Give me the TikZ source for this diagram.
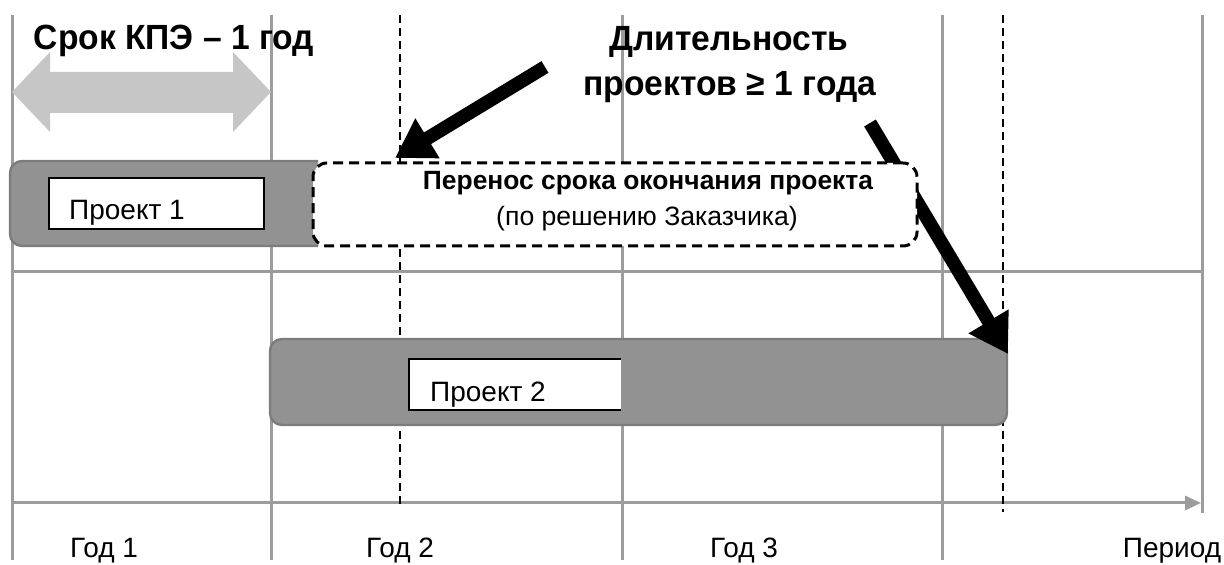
\documentclass[tikz,border=0pt]{standalone}
\usepackage{fontspec}
\setmainfont{Liberation Sans}
\newfontfamily\narrowtitle{Liberation Sans}[FakeStretch=0.96]
\usetikzlibrary{arrows.meta}
\definecolor{gridgray}{HTML}{9C9C9C}
\definecolor{barfill}{HTML}{929292}
\definecolor{baredge}{HTML}{7C7C7C}
\definecolor{lightarrow}{HTML}{C6C6C6}
\tikzset{
  gridline/.style={draw=gridgray,line width=1.5pt},
  yeardash/.style={draw=black,line width=0.7pt,dash pattern=on 4pt off 2.5pt},
  bar/.style={fill=barfill,draw=baredge,line width=1.2pt,rounded corners=6pt},
  labelbox/.style={fill=white,draw=black,line width=0.6pt},
  bigarrow/.style={draw=black,line width=6.8pt,-{Triangle[length=19pt,width=22pt]}},
  bigtitle/.style={font=\narrowtitle\fontsize{17.5}{21}\selectfont\bfseries,inner sep=0pt,anchor=base},
  plaintext/.style={font=\fontsize{14}{17}\selectfont,inner sep=0pt,anchor=base},
  boxbold/.style={font=\fontsize{13.2}{16}\selectfont\bfseries,inner sep=0pt,anchor=base},
  boxplain/.style={font=\fontsize{13.3}{16}\selectfont,inner sep=0pt,anchor=base},
  extbox/.style={fill=white,draw=black,line width=1.5pt,dash pattern=on 5pt off 3pt,rounded corners=7pt,inner sep=0pt}
}
\begin{document}
\begin{tikzpicture}[x=0.5pt,y=-0.5pt]
\useasboundingbox (0,0) rectangle (1224,565);
% grid
\draw[gridline] (12,15) -- (12,560);
\draw[gridline] (271,15) -- (271,560);
\draw[gridline] (622,15) -- (622,560);
\draw[gridline] (942,15) -- (942,560);
\draw[gridline] (1202,15) -- (1202,513);
\draw[gridline] (12,272) -- (1202,272);
\coordinate (axs) at (12,503);
\coordinate (axe) at (1201,503);
\draw[gridline,-{Triangle[length=8pt,width=7pt]}] (axs) -- (axe);
% dashed year marks
\draw[yeardash] (400,15) -- (400,506);
\draw[yeardash] (1003,15) -- (1003,512);
% gray double arrow
\fill[lightarrow] (12,92) -- (50,52) -- (50,72) -- (233,72) -- (233,52) -- (271,92)
  -- (233,132) -- (233,113) -- (50,113) -- (50,132) -- cycle;
% bars
\draw[bar] (318,161) -- (10,161) -- (10,246) -- (318,246);
\draw[bar] (270,339) rectangle (1007,425);
\node[labelbox,minimum width=107.5pt,minimum height=25.5pt,inner sep=0pt] (p1box) at (156.5,203.5) {};
\fill[white] (409,359) rectangle (621,410);
\draw[black,line width=0.6pt] (621,359) -- (409,359) -- (409,410) -- (621,410);
\node[plaintext] (p1) at (127,220) {Проект 1};
\node[plaintext] (p2) at (488,402) {Проект 2};
% arrows
\coordinate (a1s) at (545,67);
\coordinate (a1e) at (395,158);
\coordinate (a2s) at (870,123);
\coordinate (a2e) at (1008,354);
\draw[bigarrow] (a1s) -- (a1e);
\draw[bigarrow] (a2s) -- (a2e);
% extension box
\node[extbox,minimum width=302pt,minimum height=41.5pt] (ext) at (615,204.5) {};
\node[boxbold] (ext1) at (648,190) {Перенос срока окончания проекта};
\node[boxplain] (ext2) at (647,226) {(по решению Заказчика)};
% titles
\node[bigtitle] (kpe) at (174,50) {Срок КПЭ – 1 год};
\node[bigtitle] (dur1) at (729,51) {Длительность};
\node[bigtitle] (dur2) at (730,96) {проектов ≥ 1 года};
% axis labels
\node[plaintext] (y1) at (104,557) {Год 1};
\node[plaintext] (y2) at (400,557) {Год 2};
\node[plaintext] (y3) at (744,557) {Год 3};
\node[plaintext] (per) at (1172,558) {Период};
\end{tikzpicture}
\end{document}
